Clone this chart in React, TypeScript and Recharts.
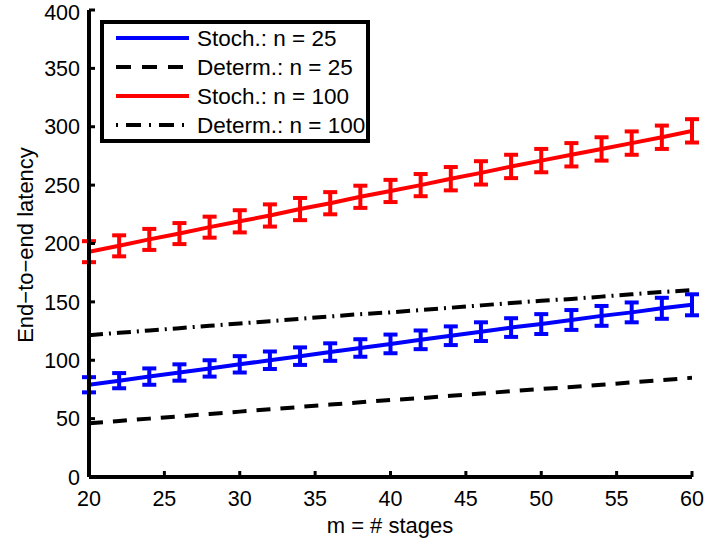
import React from 'react';
import { LineChart, Line, XAxis, YAxis, ErrorBar, Legend } from 'recharts';

const stages = [20, 22, 24, 26, 28, 30, 32, 34, 36, 38, 40, 42, 44, 46, 48, 50, 52, 54, 56, 58, 60];
const stoch25 = [79, 82.5, 86, 89.5, 93, 96.5, 100, 103.5, 107, 110.5, 114, 117.5, 121, 124.5, 128, 131, 134.5, 138, 141, 144.5, 147.5];
const stoch25Err = [6.5, 6.5, 7, 7, 7, 7, 7.5, 7.5, 7.5, 7.5, 8, 8, 8, 8, 8, 8.5, 8.5, 8.5, 8.5, 9, 9];
const determ25 = [46, 48, 50, 52, 54, 56, 58, 60, 62, 64, 66, 67.5, 69.5, 71.5, 73.5, 75.5, 77, 79, 81, 83, 85];
const stoch100 = [193, 198, 203.5, 208.5, 214, 219, 224, 229.5, 234.5, 240, 245, 250, 255.5, 260.5, 266, 271, 276, 281, 286, 291, 296.5];
const stoch100Err = [9, 9, 9, 9, 9, 9.5, 9.5, 9.5, 9.5, 9.5, 9.5, 9.5, 10, 10, 10, 10, 10, 10, 10, 10, 10];
const determ100 = [121.5, 123.5, 125.5, 127.5, 129.5, 131.5, 133.5, 135.5, 137.5, 139.5, 141, 143, 145, 147, 149, 151, 152.5, 154.5, 156.5, 158.5, 160];

const xTicks = [20, 25, 30, 35, 40, 45, 50, 55, 60];
const yTicks = [0, 50, 100, 150, 200, 250, 300, 350, 400];

const data = stages.map((m, i) => ({
  m,
  s25: stoch25[i],
  s25e: stoch25Err[i],
  d25: determ25[i],
  s100: stoch100[i],
  s100e: stoch100Err[i],
  d100: determ100[i],
}));

const series = [
  { key: 's25', name: 'Stoch.: n = 25', color: '#0000ff', dash: undefined, legendDash: undefined },
  { key: 'd25', name: 'Determ.: n = 25', color: '#000000', dash: '14 10', legendDash: '15 11' },
  { key: 's100', name: 'Stoch.: n = 100', color: '#ff0000', dash: undefined, legendDash: undefined },
  { key: 'd100', name: 'Determ.: n = 100', color: '#000000', dash: '14 6 2 6', legendDash: '2 8 15 8' },
];

const FONT = 'Liberation Sans, Arial, Helvetica, sans-serif';
const tickStyle = { fontSize: 21.5, fill: '#000', fontFamily: FONT };
const axisLineStyle = { stroke: '#000', strokeWidth: 4 };
const tickLineStyle = { stroke: '#000', strokeWidth: 3 };

function LegendBox() {
  return (
    <svg width={270} height={123} style={{ display: 'block' }}>
      <rect x={2} y={2} width={266} height={119} fill="#fff" stroke="#000" strokeWidth={4} />
      {series.map((s, i) => {
        const y = 18 + i * 29;
        return (
          <g key={s.key}>
            <line x1={16} x2={89} y1={y} y2={y} stroke={s.color} strokeWidth={4} strokeDasharray={s.legendDash} />
            <text x={97} y={y + 8} fontSize={22.5} fontFamily={FONT} fill="#000">
              {s.name}
            </text>
          </g>
        );
      })}
    </svg>
  );
}

export default function App() {
  return (
    <div style={{ position: 'absolute', left: 0, top: 0, width: 705, height: 545, background: '#fff' }}>
      <LineChart width={705} height={545} data={data} margin={{ top: 10, right: 13, bottom: 0, left: 0 }}>
        <XAxis
          dataKey="m"
          type="number"
          domain={[20, 60]}
          allowDataOverflow
          ticks={xTicks}
          height={68}
          tick={tickStyle}
          tickSize={-6}
          tickMargin={20}
          axisLine={axisLineStyle}
          tickLine={tickLineStyle}
          label={{
            content: () => (
              <text x={390} y={533} textAnchor="middle" fontSize={22} fontFamily={FONT} fill="#000">
                m = # stages
              </text>
            ),
          }}
        />
        <XAxis
          xAxisId="top"
          dataKey="m"
          type="number"
          orientation="top"
          domain={[20, 60]}
          ticks={xTicks}
          height={0}
          tick={false}
          tickSize={-6}
          axisLine={axisLineStyle}
          tickLine={tickLineStyle}
        />
        <YAxis
          domain={[0, 400]}
          ticks={yTicks}
          width={89}
          tick={tickStyle}
          tickSize={-6}
          tickMargin={15}
          axisLine={axisLineStyle}
          tickLine={tickLineStyle}
          label={{
            content: () => (
              <text
                x={33}
                y={245}
                transform="rotate(-90, 33, 245)"
                textAnchor="middle"
                fontSize={22}
                fontFamily={FONT}
                fill="#000"
              >
                End−to−end latency
              </text>
            ),
          }}
        />
        <YAxis
          yAxisId="right"
          orientation="right"
          domain={[0, 400]}
          ticks={yTicks}
          width={0}
          tick={false}
          tickSize={-6}
          axisLine={axisLineStyle}
          tickLine={tickLineStyle}
        />
        <Legend
          layout="horizontal"
          verticalAlign="middle"
          align="center"
          wrapperStyle={{ left: 100, top: 20, width: 270, height: 123 }}
          content={() => <LegendBox />}
        />
        <Line dataKey="s25" name={series[0].name} stroke={series[0].color} strokeWidth={4} dot={false} isAnimationActive={false}>
          <ErrorBar dataKey="s25e" stroke={series[0].color} strokeWidth={4} width={7} direction="y" isAnimationActive={false} />
        </Line>
        <Line dataKey="d25" name={series[1].name} stroke={series[1].color} strokeWidth={4} strokeDasharray={series[1].dash} dot={false} isAnimationActive={false} />
        <Line dataKey="s100" name={series[2].name} stroke={series[2].color} strokeWidth={4} dot={false} isAnimationActive={false}>
          <ErrorBar dataKey="s100e" stroke={series[2].color} strokeWidth={4} width={7} direction="y" isAnimationActive={false} />
        </Line>
        <Line dataKey="d100" name={series[3].name} stroke={series[3].color} strokeWidth={4} strokeDasharray={series[3].dash} dot={false} isAnimationActive={false} />
      </LineChart>
    </div>
  );
}
